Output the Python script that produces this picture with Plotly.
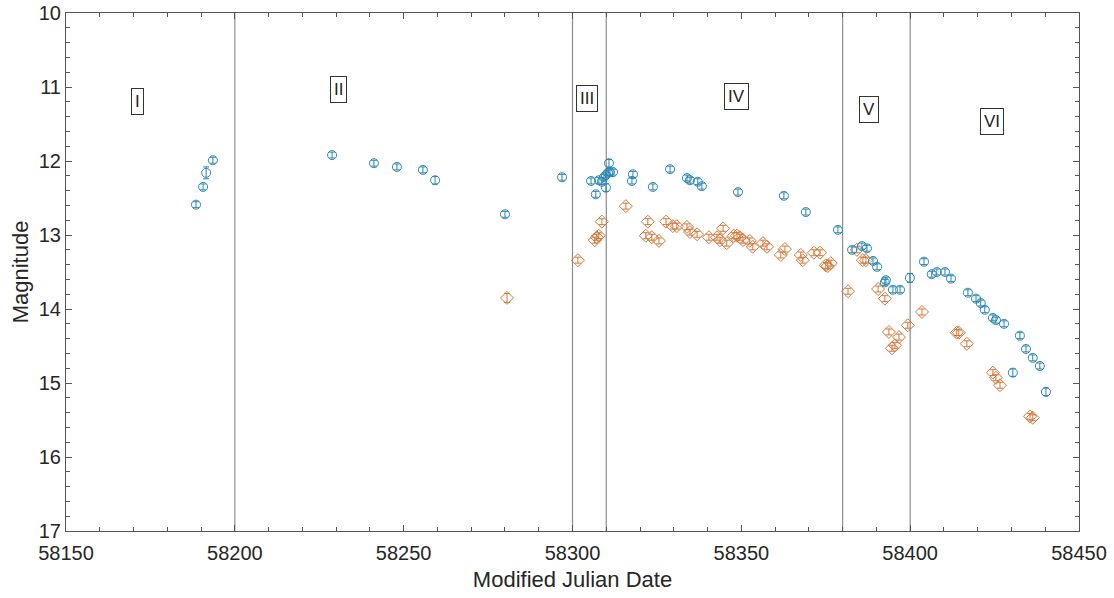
import plotly.graph_objects as go

# ---- data ----
blue_mjd = [58188.5, 58190.6, 58191.5, 58193.5, 58228.8, 58241.2, 58248.0, 58255.7, 58259.3,
            58280.0, 58296.9, 58305.5, 58306.9, 58307.8, 58308.7, 58309.3, 58309.9, 58310.5,
            58311.1, 58312.0, 58310.8, 58309.9, 58317.9, 58317.6, 58323.8, 58328.9, 58333.9,
            58334.8, 58337.1, 58338.3, 58349.0, 58362.6, 58369.1, 58378.6, 58382.8, 58385.7,
            58387.2, 58389.0, 58390.2, 58392.5, 58392.8, 58394.9, 58397.0, 58399.9, 58404.1,
            58406.4, 58407.9, 58410.3, 58412.1, 58417.1, 58419.5, 58420.9, 58422.1, 58424.5,
            58425.4, 58427.8, 58430.4, 58432.5, 58434.3, 58436.3, 58438.4, 58440.2]
blue_mag = [12.59, 12.35, 12.16, 11.99, 11.92, 12.03, 12.08, 12.12, 12.26,
            12.72, 12.22, 12.27, 12.45, 12.26, 12.28, 12.22, 12.19, 12.16,
            12.15, 12.15, 12.03, 12.36, 12.18, 12.27, 12.35, 12.11, 12.23,
            12.26, 12.28, 12.34, 12.42, 12.47, 12.69, 12.93, 13.20, 13.15,
            13.18, 13.35, 13.43, 13.64, 13.61, 13.74, 13.74, 13.58, 13.36,
            13.53, 13.50, 13.50, 13.59, 13.78, 13.86, 13.92, 14.01, 14.12,
            14.15, 14.20, 14.86, 14.36, 14.54, 14.66, 14.77, 15.12]
blue_err = [0.04, 0.04, 0.08, 0.04, 0.04, 0.04, 0.04, 0.04, 0.05,
            0.04, 0.04, 0.04, 0.04, 0.04, 0.04, 0.04, 0.04, 0.04,
            0.04, 0.04, 0.05, 0.05, 0.04, 0.04, 0.04, 0.04, 0.04,
            0.04, 0.04, 0.04, 0.04, 0.04, 0.04, 0.04, 0.04, 0.04,
            0.04, 0.04, 0.04, 0.04, 0.04, 0.04, 0.04, 0.06, 0.04,
            0.04, 0.04, 0.04, 0.04, 0.04, 0.04, 0.04, 0.04, 0.04,
            0.04, 0.04, 0.05, 0.04, 0.04, 0.04, 0.04, 0.05]

orange_mjd = [58280.6, 58301.6, 58306.6, 58307.2, 58307.8, 58308.7, 58315.8, 58321.7, 58322.3,
              58323.5, 58325.6, 58327.7, 58329.7, 58330.9, 58333.9, 58334.8, 58336.9, 58340.4,
              58342.8, 58343.7, 58344.6, 58345.7, 58347.8, 58348.7, 58349.6, 58350.5, 58352.5,
              58353.4, 58356.4, 58357.6, 58361.7, 58362.9, 58367.6, 58368.2, 58371.5, 58373.3,
              58375.0, 58375.6, 58376.5, 58381.6, 58384.2, 58386.0, 58386.9, 58390.5, 58392.5,
              58393.7, 58394.6, 58395.5, 58396.7, 58399.3, 58403.5, 58413.8, 58414.4, 58416.8,
              58424.5, 58425.4, 58426.6, 58435.5, 58436.3]
orange_mag = [13.85, 13.34, 13.07, 13.03, 13.01, 12.82, 12.61, 13.01, 12.82,
              13.03, 13.08, 12.82, 12.88, 12.88, 12.89, 12.96, 12.99, 13.03,
              13.03, 13.07, 12.91, 13.11, 13.01, 13.01, 13.03, 13.07, 13.08,
              13.16, 13.11, 13.16, 13.27, 13.19, 13.27, 13.34, 13.24, 13.24,
              13.41, 13.42, 13.38, 13.76, 13.20, 13.34, 13.34, 13.73, 13.86,
              14.31, 14.53, 14.49, 14.38, 14.22, 14.04, 14.32, 14.32, 14.47,
              14.86, 14.93, 15.03, 15.45, 15.47]
orange_err = [0.06] + [0.04] * 58

boundaries = [58200, 58300, 58310, 58380, 58400]
phase_labels = ["I", "II", "III", "IV", "V", "VI"]
phase_x = [58171.3, 58230.8, 58304.3, 58348.7, 58387.8, 58424.2]
phase_y = [11.19, 11.03, 11.16, 11.13, 11.31, 11.47]

BLUE = "#2a85b5"
ORANGE = "#d27535"
FONT = "Liberation Sans, Arial"

fig = go.Figure()

for b in boundaries:
    fig.add_vline(x=b, line=dict(color="#8c8c8c", width=1.2), layer="below")

fig.add_trace(go.Scatter(
    x=orange_mjd, y=orange_mag, mode="markers",
    marker=dict(symbol="diamond-open", size=10, color=ORANGE, line=dict(width=1)),
    error_y=dict(type="data", array=orange_err, visible=True, color=ORANGE, thickness=1, width=3),
    showlegend=False))

fig.add_trace(go.Scatter(
    x=blue_mjd, y=blue_mag, mode="markers",
    marker=dict(symbol="circle-open", size=9, color=BLUE, line=dict(width=1)),
    error_y=dict(type="data", array=blue_err, visible=True, color=BLUE, thickness=1, width=3),
    showlegend=False))

for lab, px, py in zip(phase_labels, phase_x, phase_y):
    fig.add_annotation(x=px, y=py, text=lab, showarrow=False,
                       font=dict(family=FONT, size=17, color="#222"),
                       bordercolor="#333", borderwidth=1, borderpad=3, bgcolor="white")

axis_common = dict(
    showgrid=False, zeroline=False, showline=True, linecolor="#555", linewidth=1,
    mirror="ticks", ticks="inside", ticklen=6, tickcolor="#555", automargin=False,
    tickfont=dict(family=FONT, size=20, color="#262626"),
)

fig.update_xaxes(range=[58150, 58450], dtick=50, tick0=58150, tickformat="d",
                 ticklabelstandoff=4,
                 title=dict(text="Modified Julian Date", font=dict(family=FONT, size=22, color="#262626"), standoff=8),
                 minor=dict(ticks="inside", dtick=10, ticklen=4, tickcolor="#555"),
                 **axis_common)
fig.update_yaxes(range=[17, 10], dtick=1,
                 title=dict(text="Magnitude", font=dict(family=FONT, size=22, color="#262626"), standoff=4),
                 minor=dict(ticks="inside", dtick=0.2, ticklen=4, tickcolor="#555"),
                 **axis_common)

fig.update_layout(
    width=1114, height=598,
    margin=dict(l=66, r=35, t=13, b=67),
    plot_bgcolor="white", paper_bgcolor="white",
)

fig.write_html("out.html")
